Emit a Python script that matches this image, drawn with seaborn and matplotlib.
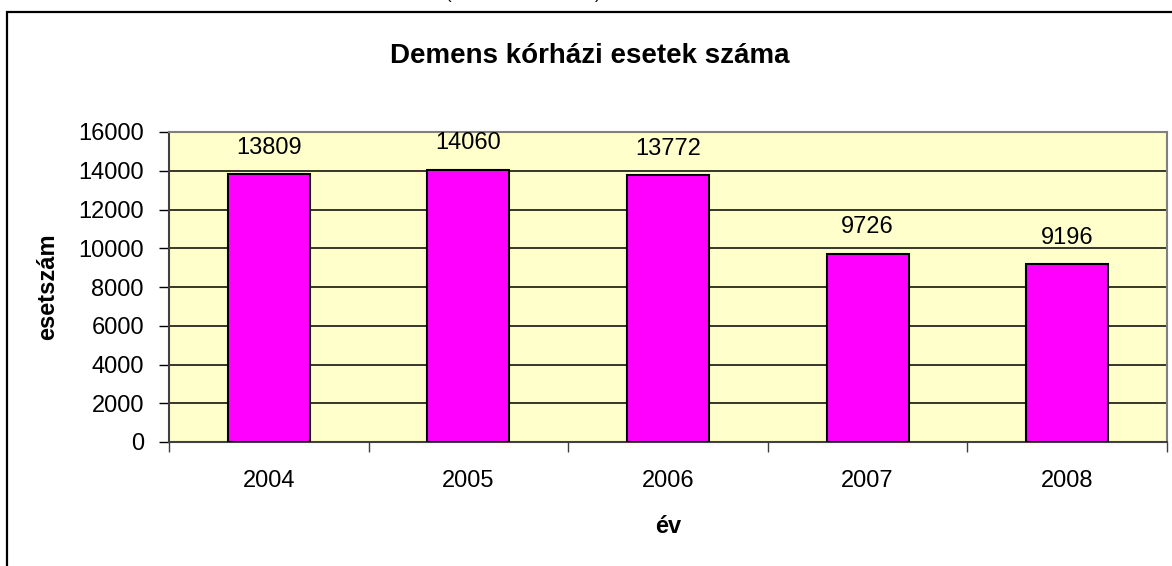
import matplotlib

matplotlib.use("Agg")
import matplotlib.pyplot as plt
import matplotlib.ticker as ticker
from matplotlib.patches import Rectangle
import pandas as pd
import seaborn as sns

years = ["2004", "2005", "2006", "2007", "2008"]
cases = [13809, 14060, 13772, 9726, 9196]
title = "Demens kórházi esetek száma"
x_label = "év"
y_label = "esetszám"

sns.set_theme(style="white")
plt.rcParams["font.family"] = ["Liberation Sans", "DejaVu Sans"]
plt.rcParams.update({
    "text.color": "black",
    "axes.labelcolor": "black",
    "xtick.color": "black",
    "ytick.color": "black",
})

W, H = 1172, 566
fig = plt.figure(figsize=(W / 100, H / 100), dpi=100)
fig.patch.set_facecolor("white")


def px(x0, y0, x1, y1):
    # pixel box (from top-left) -> figure fraction rect
    return [x0 / W, 1 - y1 / H, (x1 - x0) / W, (y1 - y0) / H]


# outer chart frame (runs off the right / bottom edge)
fig.patches.append(
    Rectangle((7 / W, -0.1), 1.2, 1 - 12 / H + 0.1, transform=fig.transFigure,
              fill=False, edgecolor="black", linewidth=1.6, zorder=0)
)
# remnants of the text above the frame
fig.text(449 / W, 1 + 1 / H, "(", fontsize=12, ha="center", va="baseline")
fig.text(598 / W, 1 + 1 / H, ")", fontsize=12, ha="center", va="baseline")

ax = fig.add_axes(px(169, 132, 1167, 442))
ax.set_facecolor("#FFFFCC")

df = pd.DataFrame({"year": years, "cases": cases})
sns.barplot(data=df, x="year", y="cases", color="#FF00FF", saturation=1,
            edgecolor="black", linewidth=1.5, width=0.41, ax=ax, zorder=3)

ax.set_xlim(-0.5, len(years) - 0.5)
ax.set_ylim(0, 16000)
ax.yaxis.set_major_locator(ticker.MultipleLocator(2000))
ax.yaxis.grid(True, color="black", linewidth=1.1, zorder=1)
ax.set_axisbelow(True)

# category boundary ticks, labels in the middle
ax.set_xticks([i - 0.5 for i in range(len(years) + 1)])
ax.set_xticklabels([])
ax.set_xticks(range(len(years)), minor=True)
ax.set_xticklabels(years, minor=True)
ax.tick_params(axis="x", which="major", direction="out", length=7, width=1,
               color="#404040", bottom=True)
ax.tick_params(axis="x", which="minor", length=0, pad=20, labelsize=17)
ax.tick_params(axis="y", direction="out", length=7, width=1, color="black",
               left=True, labelsize=17, pad=11)

for side in ["top", "right"]:
    ax.spines[side].set_color("#808080")
    ax.spines[side].set_linewidth(1.5)
for side in ["left", "bottom"]:
    ax.spines[side].set_color("#404040")
    ax.spines[side].set_linewidth(1.5)

for i, v in enumerate(cases):
    ax.annotate(str(v), (i, v), xytext=(0, 11), textcoords="offset points",
                ha="center", va="bottom", fontsize=17)

ax.set_xlabel(x_label, fontsize=17, fontweight="bold", labelpad=17)
ax.set_ylabel(y_label, fontsize=17, fontweight="bold", labelpad=14)
fig.text(590 / W, 1 - 56 / H, title, fontsize=20, fontweight="bold",
         ha="center", va="center")

fig.savefig("out.png", dpi=100, facecolor="white")
plt.close(fig)
